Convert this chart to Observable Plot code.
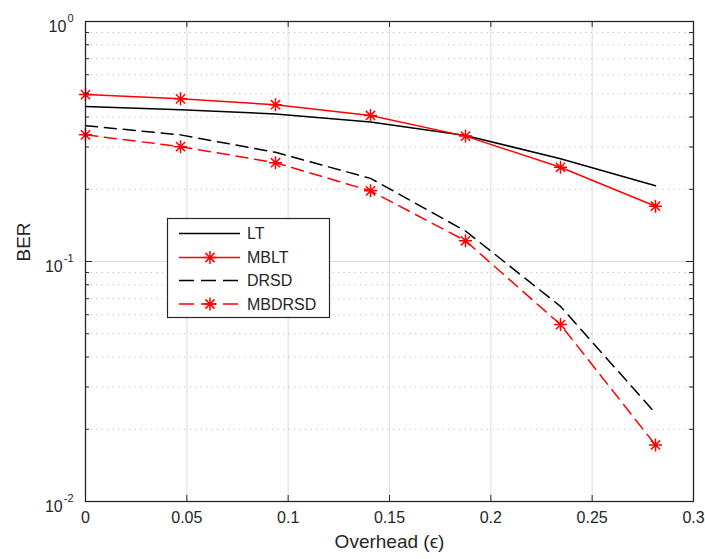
<!DOCTYPE html>
<html><head><meta charset="utf-8">
<script src="https://cdn.jsdelivr.net/npm/d3@7"></script>
<script src="https://cdn.jsdelivr.net/npm/@observablehq/plot@0.6"></script>
<style>
body{margin:0;background:#fff;font-family:"Liberation Sans",Arial,Helvetica,sans-serif}
#wrap{position:relative;width:705px;height:559px}
#legend{position:absolute;left:0;top:0}
</style>
</head><body><div id="wrap"></div>
<script>
const overhead = [0, 0.046875, 0.09375, 0.140625, 0.1875, 0.234375, 0.28125];
const berLT = [0.442, 0.429, 0.412, 0.381, 0.335, 0.268, 0.207];
const berMBLT = [0.496, 0.476, 0.450, 0.406, 0.333, 0.247, 0.170];
const berDRSD = [0.368, 0.337, 0.285, 0.222, 0.134, 0.065, 0.0233];
const berMBDRSD = [0.337, 0.301, 0.258, 0.197, 0.122, 0.0546, 0.0172];
const seriesNames = ["LT", "MBLT", "DRSD", "MBDRSD"];
const xTicks = [0, 0.05, 0.1, 0.15, 0.2, 0.25, 0.3];
const xTickLabels = ["0", "0.05", "0.1", "0.15", "0.2", "0.25", "0.3"];
const yDecades = [1, 0.1, 0.01];
const yExponents = ["0", "-1", "-2"];
const xLabel = "Overhead (\u03F5)";
const yLabel = "BER";

const W = 705, H = 559, mL = 85, mR = 12, mT = 21, mB = 58;
const pw = W - mL - mR, ph = H - mT - mB;
const ink = "#262626";
const dash = "12,7";
const FONT = "'Liberation Sans', Arial, Helvetica, sans-serif";

const series = [
  {name: seriesNames[0], values: berLT, color: "#000000", dashed: false, marker: false},
  {name: seriesNames[1], values: berMBLT, color: "#ff0000", dashed: false, marker: true},
  {name: seriesNames[2], values: berDRSD, color: "#000000", dashed: true, marker: false},
  {name: seriesNames[3], values: berMBDRSD, color: "#ff0000", dashed: true, marker: true}
];
const rowsOf = s => overhead.map((x, i) => ({x, y: s.values[i]}));

const minorY = [];
for (const d of [0.01, 0.1]) for (let k = 2; k <= 9; k++) minorY.push(d * k);

const asterisk8 = {
  draw(ctx, size) {
    const r = Math.sqrt(size / Math.PI), d = r * Math.SQRT1_2;
    ctx.moveTo(-r, 0); ctx.lineTo(r, 0);
    ctx.moveTo(0, -r); ctx.lineTo(0, r);
    ctx.moveTo(-d, -d); ctx.lineTo(d, d);
    ctx.moveTo(-d, d); ctx.lineTo(d, -d);
  }
};

const cv = document.createElement("canvas").getContext("2d");
cv.font = "11px " + FONT;

const yLabelMarks = [];
yDecades.forEach((d, i) => {
  const ew = cv.measureText(yExponents[i]).width;
  yLabelMarks.push(Plot.text([d], {y: v => v, frameAnchor: "left", dx: -12, dy: -3, text: () => yExponents[i], textAnchor: "end", fontSize: 11, fill: ink}));
  yLabelMarks.push(Plot.text([d], {y: v => v, frameAnchor: "left", dx: -12 - ew - 1, dy: 5, text: () => "10", textAnchor: "end", fontSize: 16, fill: ink}));
});

const marks = [
  Plot.ruleX(xTicks.slice(1, -1), {x: d => d, stroke: "#dcdcdc", strokeWidth: 1}),
  Plot.ruleY(minorY, {y: d => d, stroke: "#bcbcbc", strokeWidth: 1, strokeDasharray: "1.2,4.3"}),
  Plot.ruleY([0.1], {y: d => d, stroke: "#dcdcdc", strokeWidth: 1}),
];
for (const s of series) {
  marks.push(Plot.line(rowsOf(s), {x: "x", y: "y", stroke: s.color, strokeWidth: 1.5, strokeDasharray: s.dashed ? dash : null, curve: "linear"}));
}
for (const s of series) {
  if (s.marker) marks.push(Plot.dot(rowsOf(s), {x: "x", y: "y", symbol: asterisk8, r: 6.5, stroke: s.color, strokeWidth: 1.5, fill: "none"}));
}
marks.push(
  Plot.tickX(xTicks, {x: d => d, insetTop: ph - 6, stroke: ink, strokeWidth: 1}),
  Plot.tickX(xTicks, {x: d => d, insetBottom: ph - 6, stroke: ink, strokeWidth: 1}),
  Plot.tickY(yDecades, {y: d => d, insetRight: pw - 7, stroke: ink, strokeWidth: 1}),
  Plot.tickY(yDecades, {y: d => d, insetLeft: pw - 7, stroke: ink, strokeWidth: 1}),
  Plot.tickY(minorY, {y: d => d, insetRight: pw - 4, stroke: ink, strokeWidth: 1}),
  Plot.tickY(minorY, {y: d => d, insetLeft: pw - 4, stroke: ink, strokeWidth: 1}),
  Plot.frame({stroke: ink, strokeWidth: 1.3}),
  Plot.text(xTicks, {x: d => d, frameAnchor: "bottom", dy: 21, text: (d, i) => xTickLabels[i], fontSize: 16, fill: ink}),
  Plot.text([xLabel], {frameAnchor: "bottom", dy: 46, text: d => d, fontSize: 19, fill: ink}),
  Plot.text([yLabel], {frameAnchor: "left", dx: -62, text: d => d, rotate: -90, fontSize: 19, fill: ink}),
  ...yLabelMarks
);

const chart = Plot.plot({
  width: W, height: H,
  marginLeft: mL, marginRight: mR, marginTop: mT, marginBottom: mB,
  style: {fontFamily: FONT, background: "#fff"},
  x: {domain: [0, 0.3], axis: null},
  y: {type: "log", domain: [0.01, 1], axis: null},
  marks
});
document.getElementById("wrap").appendChild(chart);

// legend box
const lg = d3.select("#wrap").append("svg").attr("id", "legend")
  .attr("width", W).attr("height", H).style("font-family", FONT);
const bx = 167.5, by = 218.5, bw = 162, bh = 99;
lg.append("rect").attr("x", bx).attr("y", by).attr("width", bw).attr("height", bh)
  .attr("fill", "#fff").attr("stroke", ink).attr("stroke-width", 1.2);
const rowY = [233.5, 257.5, 280.5, 304];
series.forEach((s, i) => {
  const g = lg.append("g");
  g.append("line").attr("x1", 179).attr("x2", 240).attr("y1", rowY[i]).attr("y2", rowY[i])
    .attr("stroke", s.color).attr("stroke-width", 1.5)
    .attr("stroke-dasharray", s.dashed ? "15,7" : null);
  if (s.marker) {
    const p = d3.path(); asterisk8.draw(p, Math.PI * 6.5 * 6.5);
    g.append("path").attr("d", p.toString()).attr("transform", `translate(210,${rowY[i]})`)
      .attr("stroke", s.color).attr("stroke-width", 1.5).attr("fill", "none");
  }
  g.append("text").attr("x", 247).attr("y", rowY[i]).attr("dy", "0.35em")
    .attr("font-size", 16).attr("fill", ink).text(s.name);
});
</script>
</body></html>
